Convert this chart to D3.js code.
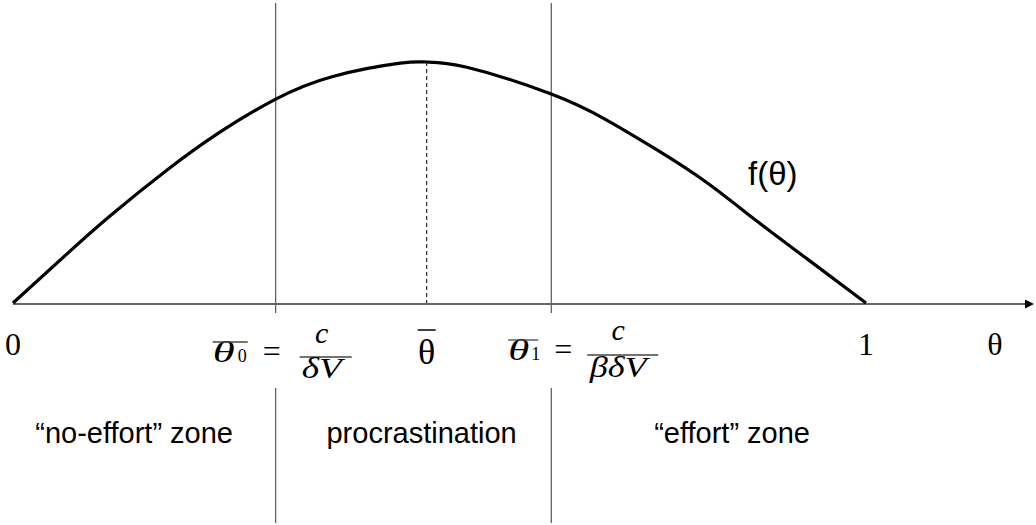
<!DOCTYPE html>
<html lang="en">
<head>
    <meta charset="UTF-8">
    <title>Procrastination zones</title>
    <style>
        body { margin: 0; background: #fff; }
        .zone { font-family: "Liberation Sans", Arial, sans-serif; font-size: 29px; fill: #000; }
        .math { font-family: "Liberation Serif", "Times New Roman", serif; fill: #000; }
    </style>
</head>
<body>
    <svg></svg>
    <script src="https://d3js.org/d3.v7.min.js"></script>
    <script>
let width = 1036, height = 525;

// curve f(theta)
let thetaVals = [0, 0.063, 0.114, 0.181, 0.243, 0.308, 0.375, 0.454, 0.485, 0.532, 0.631, 0.696, 0.755, 0.814, 0.872, 0.931, 1];
let fVals     = [0, 0.203, 0.362, 0.553, 0.710, 0.846, 0.940, 0.995, 1.0, 0.978, 0.867, 0.759, 0.635, 0.498, 0.340, 0.183, 0];

// thresholds
let thetaZero = 0.308, thetaBar = 0.485, thetaOne = 0.631;

// zone labels
let zoneNames = ["\u201cno-effort\u201d zone", "procrastination", "\u201ceffort\u201d zone"];
let zoneCenters = [0.142, 0.479, 0.843];

let svg = d3.select("svg")
    .attr("width", width)
    .attr("height", height);

let x = d3.scaleLinear().domain([0, 1]).range([13, 866]);
let y = d3.scaleLinear().domain([0, 1]).range([303, 62]);

let axisY = y(0) + 1;

// vertical threshold lines (broken where the formulas sit)
[thetaZero, thetaOne].forEach(t => {
    svg.append("line")
        .attr("x1", x(t)).attr("x2", x(t))
        .attr("y1", 3).attr("y2", 313)
        .attr("stroke", "#333").attr("stroke-width", 1);
    svg.append("line")
        .attr("x1", x(t)).attr("x2", x(t))
        .attr("y1", 388).attr("y2", 523)
        .attr("stroke", "#333").attr("stroke-width", 1);
});

// dashed line at the peak
svg.append("line")
    .attr("x1", x(thetaBar)).attr("x2", x(thetaBar))
    .attr("y1", y(1)).attr("y2", axisY)
    .attr("stroke", "#000").attr("stroke-width", 1)
    .attr("stroke-dasharray", "4,3");

// horizontal axis with arrow
svg.append("defs").append("marker")
    .attr("id", "arrow")
    .attr("viewBox", "0 0 10 10")
    .attr("refX", 0).attr("refY", 5)
    .attr("markerWidth", 4.5).attr("markerHeight", 4.5)
    .attr("markerUnits", "strokeWidth")
    .attr("orient", "auto")
    .append("path")
        .attr("d", "M0,0 L10,5 L0,10 Z")
        .attr("fill", "#000");

svg.append("line")
    .attr("x1", x(0)).attr("x2", 1025)
    .attr("y1", axisY).attr("y2", axisY)
    .attr("stroke", "#666").attr("stroke-width", 2)
    .attr("marker-end", "url(#arrow)");

// the curve
let pts = thetaVals.map((t, i) => [t, fVals[i]]);
let line = d3.line()
    .x(d => x(d[0]))
    .y(d => y(d[1]))
    .curve(d3.curveNatural);

svg.append("path")
    .datum(pts)
    .attr("d", line)
    .attr("fill", "none")
    .attr("stroke", "#000")
    .attr("stroke-width", 3.2)
    .attr("stroke-linejoin", "round");

svg.append("text")
    .attr("class", "zone")
    .attr("x", 748).attr("y", 185)
    .style("font-size", "33px")
    .text("f(\u03b8)");

// axis labels
svg.append("text").attr("class", "math")
    .attr("x", x(0)).attr("y", 355)
    .attr("text-anchor", "middle")
    .style("font-size", "32px")
    .text("0");
svg.append("text").attr("class", "math")
    .attr("x", x(1)).attr("y", 355)
    .attr("text-anchor", "middle")
    .style("font-size", "32px")
    .text("1");
svg.append("text").attr("class", "math")
    .attr("x", 995).attr("y", 355)
    .attr("text-anchor", "middle")
    .style("font-size", "32px")
    .text("\u03b8");

// theta bar in the middle
let gBar = svg.append("g").attr("transform", `translate(${x(thetaBar)},0)`);
gBar.append("text").attr("class", "math")
    .attr("x", 0).attr("y", 364)
    .attr("text-anchor", "middle")
    .style("font-size", "36px")
    .text("\u03b8");
gBar.append("line")
    .attr("x1", -9).attr("x2", 9)
    .attr("y1", 330).attr("y2", 330)
    .attr("stroke", "#000").attr("stroke-width", 1.5);

// threshold formulas
function formula(t, o) {
    let g = svg.append("g").attr("transform", `translate(${x(t)},0)`);
    g.append("text").attr("class", "math")
        .attr("x", o.th).attr("y", o.base)
        .attr("textLength", o.thW).attr("lengthAdjust", "spacingAndGlyphs")
        .style("font-size", "29px").style("font-style", "italic")
        .text("\u03b8");
    g.append("text").attr("class", "math")
        .attr("x", o.sub).attr("y", o.base)
        .style("font-size", "18px")
        .text(o.subText);
    g.append("line")
        .attr("x1", o.th).attr("x2", o.barEnd)
        .attr("y1", o.barY).attr("y2", o.barY)
        .attr("stroke", "#444").attr("stroke-width", 1.3);
    g.append("text").attr("class", "math")
        .attr("x", o.eq).attr("y", o.base)
        .attr("text-anchor", "middle")
        .style("font-size", "32px")
        .text("=");
    g.append("text").attr("class", "math")
        .attr("x", o.frac).attr("y", o.numBase)
        .attr("text-anchor", "middle")
        .style("font-size", "30px").style("font-style", "italic")
        .text("c");
    g.append("line")
        .attr("x1", o.fracL).attr("x2", o.fracR)
        .attr("y1", o.fracY).attr("y2", o.fracY)
        .attr("stroke", "#444").attr("stroke-width", 1.3);
    g.append("text").attr("class", "math")
        .attr("x", o.frac).attr("y", o.denBase)
        .attr("text-anchor", "middle")
        .attr("textLength", o.denW).attr("lengthAdjust", "spacingAndGlyphs")
        .style("font-size", "30px").style("font-style", "italic")
        .text(o.den);
}

formula(thetaZero, {
    th: -63, thW: 22, sub: -38, subText: "0", base: 362, barY: 342, barEnd: -28,
    eq: -4, frac: 46, numBase: 343, fracL: 24, fracR: 76, fracY: 357,
    denBase: 378, den: "\u03b4V", denW: 40
});
formula(thetaOne, {
    th: -43, thW: 21, sub: -20, subText: "1", base: 360, barY: 340, barEnd: -13,
    eq: 12, frac: 67, numBase: 340, fracL: 36, fracR: 107, fracY: 355,
    denBase: 377, den: "\u03b2\u03b4V", denW: 57
});

// zone labels
svg.selectAll("text.zonelabel")
    .data(zoneNames)
    .enter()
    .append("text")
        .attr("class", "zone zonelabel")
        .attr("x", (d, i) => x(zoneCenters[i]))
        .attr("y", 443)
        .attr("text-anchor", "middle")
        .text(d => d);
    </script>
</body>
</html>
